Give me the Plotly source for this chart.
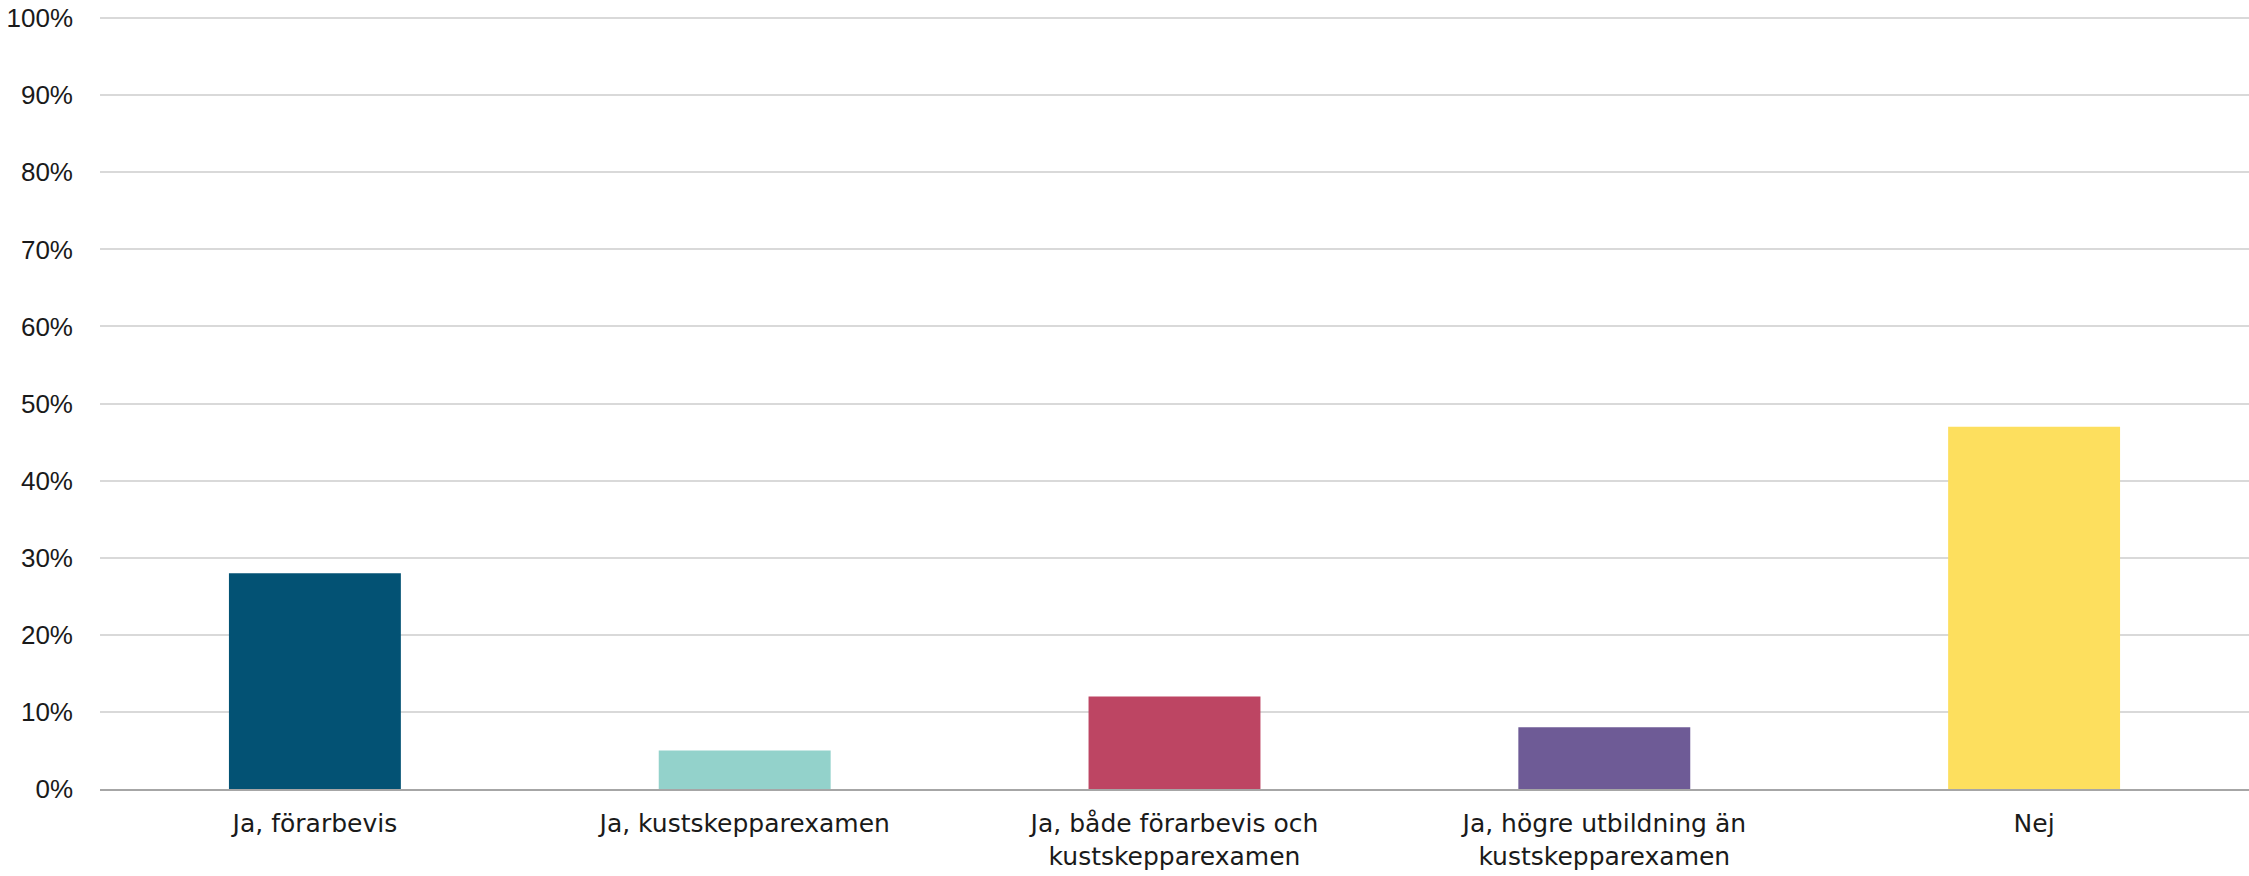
import plotly.graph_objects as go

categories = [
    "Ja, förarbevis",
    "Ja, kustskepparexamen",
    "Ja, både förarbevis och<br>kustskepparexamen",
    "Ja, högre utbildning än<br>kustskepparexamen",
    "Nej",
]
values = [28, 5, 12, 8, 47]
colors = ["#035274", "#93d2cb", "#bd4563", "#6e5b96", "#fddf5e"]
y_ticks = [0, 10, 20, 30, 40, 50, 60, 70, 80, 90, 100]
y_tick_labels = [f"{v}%" for v in y_ticks]

fig = go.Figure(
    go.Bar(
        x=categories,
        y=values,
        marker=dict(color=colors, line=dict(width=0)),
        hoverinfo="x+y",
    )
)

fig.update_layout(
    width=2249,
    height=876,
    margin=dict(l=100, r=0, t=17, b=87),
    paper_bgcolor="white",
    plot_bgcolor="white",
    bargap=0.6,
    showlegend=False,
    font=dict(family="Liberation Sans, Arial, sans-serif", size=26, color="#1a1a1a"),
)

fig.update_xaxes(
    showgrid=False,
    showline=True,
    linecolor="#a6a6a6",
    linewidth=2,
    ticks="",
    automargin=False,
    ticklabelstandoff=11,
    tickfont=dict(family="DejaVu Sans, Open Sans, sans-serif", size=25, color="#1a1a1a"),
)

fig.update_yaxes(
    range=[0, 100.15],
    tickvals=y_ticks,
    ticktext=y_tick_labels,
    showgrid=True,
    gridcolor="#d9d9d9",
    gridwidth=1.5,
    zeroline=False,
    showline=False,
    ticks="",
    automargin=False,
    ticklabelstandoff=26,
    ticklabeloverflow="allow",
    tickfont=dict(size=26, color="#1a1a1a"),
)

fig.write_html(
    "out.html",
    config={"displayModeBar": False},
    post_script="document.body.style.margin='0px';document.body.style.overflow='hidden';",
)
